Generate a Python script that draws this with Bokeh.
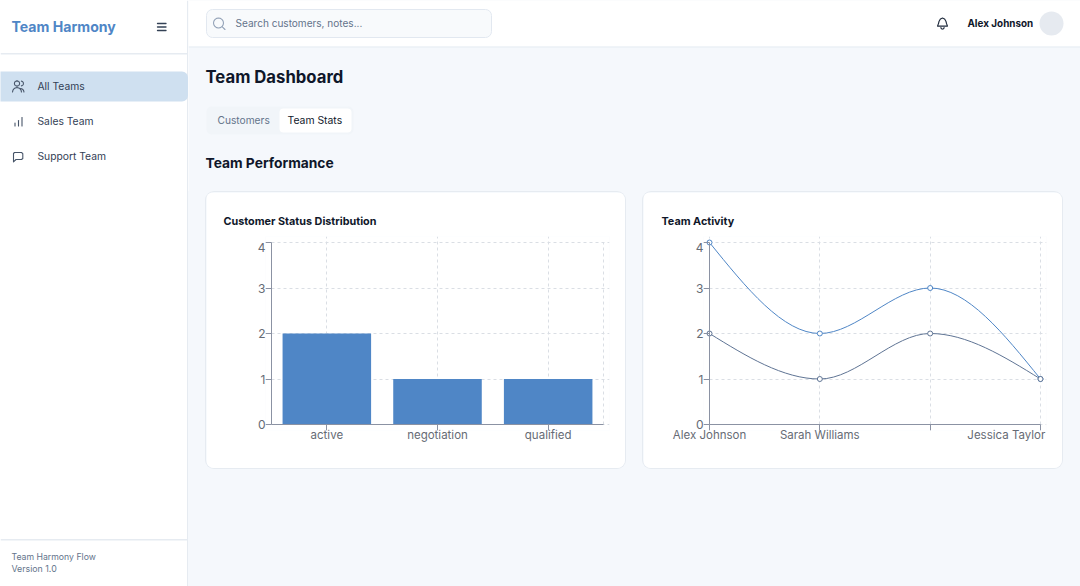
import math
from bokeh.embed import file_html
from bokeh.resources import INLINE
from bokeh.layouts import row, column
from bokeh.models import ColumnDataSource, BoxAnnotation, FixedTicker, Label, LinearAxis, Range1d
from bokeh.plotting import figure

# ---- data ----
statuses = ["active", "negotiation", "qualified"]
status_counts = [2, 1, 1]
member_labels = ["Alex Johnson", "Sarah Williams", "", "Jessica Taylor"]
activity_a = [4, 2, 3, 1]
activity_b = [2, 1, 2, 1]
y_ticks = [0, 1, 2, 3, 4]
nav_items = ["All Teams", "Sales Team", "Support Team"]

# ---- style ----
FONT = "Inter"
BG = "#f5f8fc"
LINE = "#e6ebf1"
BLUE = "#4f86c6"
SLATE = "#5f7494"
GRID = "#dadee4"
AXIS = "#8b92a3"
TICKTXT = "#666b75"
TICK_SIZE = "11.5px"
W, H = 1080, 586
PAD = 6
PLOT_TOP, PLOT_BOTTOM = 242, 424
CARD_TOP, CARD_BOTTOM = 192, 468
CARD_STYLE = {"border-radius": "8px", "overflow": "hidden", "box-shadow": f"0 0 0 1px {LINE}"}


def chrome(x0, x1, y0, y1, bg):
    p = figure(width=x1 - x0, height=y1 - y0, x_range=Range1d(x0, x1), y_range=Range1d(y1, y0),
               x_axis_type=None, y_axis_type=None, toolbar_location=None, output_backend="svg",
               min_border=0, outline_line_color=None, background_fill_color=bg, border_fill_color=bg)
    return p


def box(p, l, r, t, b, fill, line=None, radius=0):
    p.add_layout(BoxAnnotation(left=l, right=r, top=t, bottom=b, fill_color=fill, fill_alpha=1,
                               line_color=line, line_alpha=1 if line else 0, line_width=1,
                               border_radius=radius, level="underlay"))


def text(p, x, y, s, size, color, bold=False, align="left"):
    p.add_layout(Label(x=x - 1, y=y - 1, text=s, text_font=FONT, text_font_size=f"{size}px", text_color=color,
                       text_font_style="bold" if bold else "normal", text_baseline="middle", text_align=align))


def poly(p, xs, ys, color, w=1.1):
    p.line(xs, ys, line_color=color, line_width=w, line_cap="round", line_join="round")


def arc_pts(cx, cy, r, a0, a1, n=16):
    a = [a0 + (a1 - a0) * i / n for i in range(n + 1)]
    return [cx + r * math.cos(math.radians(t)) for t in a], [cy + r * math.sin(math.radians(t)) for t in a]


# ---- sidebar ----
side = chrome(0, 188, 0, H, "#ffffff")
box(side, 186.5, 188, 0, H, LINE)
box(side, 0, 186.5, 52.5, 54, LINE)
box(side, 0, 186.5, 538.5, 540, LINE)
box(side, -8, 187.5, 71, 101, "#cfe0f0", None, 6)
text(side, 12, 27, "Team Harmony", 14.1, BLUE, True)
for yy in (23, 26.5, 30):
    poly(side, [157, 165.5], [yy, yy], "#334155", 1.3)
ICON = "#475569"
for label, yy in zip(nav_items, (86, 121, 156.5)):
    text(side, 38, yy, label, 10.3, "#334155")
# people icon
poly(side, *arc_pts(16.5, 83, 2.6, 0, 360), ICON)
poly(side, *arc_pts(16.5, 91.5, 4.4, 180, 360), ICON)
poly(side, *arc_pts(20.5, 83, 2.4, -80, 80), ICON)
poly(side, *arc_pts(20, 91.5, 3.4, 270, 360), ICON)
# bars icon
for xx, tt in ((14.5, 122.5), (18, 120), (21.5, 117)):
    poly(side, [xx, xx], [125.5, tt], ICON)
# chat icon
poly(side, [14, 21, 22.3, 22.3, 21, 15.5, 13, 13, 14], [152, 152, 153.2, 158, 159, 159, 161.3, 153, 152], ICON)
text(side, 12, 557, "Team Harmony Flow", 8.7, "#64748b")
text(side, 12, 569, "Version 1.0", 8.8, "#64748b")

# ---- header + section headings ----
top = chrome(188, W, 0, 191, BG)
box(top, 188, W, 0, 46, "#ffffff")
box(top, 188, W, 46, 47, LINE)
box(top, 206, 491, 9, 37, "#f8fafc", "#e2e8f0", 6)
poly(top, *arc_pts(218, 22.5, 5, 0, 360), "#94a3b8")
poly(top, [221.8, 224.5], [26.3, 29], "#94a3b8")
text(top, 236, 23, "Search customers, notes...", 10.05, "#64748b")
bx = [938, 938.5, 939, 940, 942, 944, 945, 945.5, 946, 947, 937, 938]
by = [23, 21, 20, 18.4, 17.6, 18.4, 20, 21, 23, 25.6, 25.6, 23]
poly(top, bx, by, "#1e293b")
poly(top, *arc_pts(942, 27, 1.6, 0, 180), "#1e293b")
text(top, 968, 23, "Alex Johnson", 9.9, "#0f172a", True)
top.scatter([1051], [23], size=24, fill_color="#e6eaf0", line_color=None)
text(top, 206, 77, "Team Dashboard", 16.7, "#0f172a", True)
box(top, 206, 353, 106, 134, "#f1f5f9", None, 5)
box(top, 279, 351, 108, 132, "#ffffff", None, 4)
text(top, 218, 120.5, "Customers", 10.2, "#64748b")
text(top, 288, 120.5, "Team Stats", 10.4, "#0f172a")
text(top, 206, 163.5, "Team Performance", 13.8, "#0f172a", True)


# ---- charts ----
def style_axis(ax):
    ax.axis_line_color = AXIS
    ax.axis_line_width = 1
    ax.major_tick_line_color = AXIS
    ax.major_tick_out = 6
    ax.major_tick_in = 0
    ax.minor_tick_line_color = None
    ax.major_label_text_color = None


def label_only(ax, size):
    ax.axis_line_color = None
    ax.major_tick_line_color = None
    ax.minor_tick_line_color = None
    ax.major_tick_out = 0
    ax.major_tick_in = 0
    ax.major_label_text_font = FONT
    ax.major_label_text_font_size = size
    ax.major_label_text_color = TICKTXT


def make_card(x_range, left_b, right_b, title, title_offset, margin):
    p = figure(width=419, height=CARD_BOTTOM - CARD_TOP, x_range=x_range, y_range=Range1d(*y_range_args),
               toolbar_location=None, output_backend="svg", min_border_left=left_b, min_border_right=right_b,
               min_border_top=PLOT_TOP - PAD - CARD_TOP, min_border_bottom=CARD_BOTTOM - PLOT_BOTTOM - PAD,
               background_fill_color="#ffffff", border_fill_color="#ffffff", outline_line_color=None,
               title=title, margin=margin, styles=CARD_STYLE)
    p.title.align = "left"
    p.title.offset = title_offset
    p.title.standoff = 17
    p.title.text_font = FONT
    p.title.text_font_size = "10.8px"
    p.title.text_font_style = "bold"
    p.title.text_color = "#0f172a"
    p.xgrid.grid_line_color = GRID
    p.ygrid.grid_line_color = GRID
    p.xgrid.grid_line_dash = [3, 3]
    p.ygrid.grid_line_dash = [3, 3]
    p.ygrid.ticker = FixedTicker(ticks=y_ticks)
    p.xgrid.bounds = (y_ticks[0], y_ticks[-1])
    label_only(p.xaxis[0], TICK_SIZE)
    label_only(p.yaxis[0], "12px")
    p.xaxis.major_label_standoff = -3
    p.yaxis.major_label_standoff = 0
    # the top value's label sits a little under its tick in the reference
    top_label_at = y_ticks[-1] - 0.1
    p.yaxis.ticker = FixedTicker(ticks=y_ticks[:-1] + [top_label_at])
    p.yaxis.major_label_overrides = {**{v: str(v) for v in y_ticks[:-1]}, top_label_at: str(y_ticks[-1])}
    return p


y_pad = PAD * (y_ticks[-1] - y_ticks[0]) / (PLOT_BOTTOM - PLOT_TOP)
y_range_args = (y_ticks[0] - y_pad, y_ticks[-1] + y_pad)

# bar chart: plot area 271..603; one unit per category
pos = list(range(len(statuses)))
x_left, x_right = pos[0] - 0.5, pos[-1] + 0.5
x_pad1 = PAD * (x_right - x_left) / 332
c1 = make_card(Range1d(x_left - x_pad1, x_right + x_pad1), 271 - PAD - 206, 625 - 603 - PAD,
               "Customer Status Distribution", -42, (1, 9, 118, 18))
c1.xaxis.ticker = FixedTicker(ticks=pos)
c1.xaxis.major_label_overrides = dict(zip(pos, statuses))
c1.xgrid.ticker = FixedTicker(ticks=pos)
c1.ygrid.bounds = (x_left, x_right)
bx1 = LinearAxis(fixed_location=y_ticks[0], ticker=FixedTicker(ticks=pos), bounds=(x_left, x_right))
style_axis(bx1)
c1.add_layout(bx1, "below")
ly1 = LinearAxis(fixed_location=x_left, ticker=FixedTicker(ticks=y_ticks), bounds=(y_ticks[0], y_ticks[-1]))
style_axis(ly1)
c1.add_layout(ly1, "left")
c1.vbar(x=pos, top=status_counts, width=0.8, fill_color=BLUE, line_color=None)
c1.segment(x0=[x_right], y0=[y_ticks[0]], x1=[x_right], y1=[y_ticks[-1]], line_color=GRID, line_dash="3 3",
           line_width=1)


# line chart
def monotone(xs, ys):
    n = len(xs)
    t = [0.0] * n
    sgn = lambda v: (v > 0) - (v < 0)
    for i in range(1, n - 1):
        h0, h1 = xs[i] - xs[i - 1], xs[i + 1] - xs[i]
        s0, s1 = (ys[i] - ys[i - 1]) / h0, (ys[i + 1] - ys[i]) / h1
        q = (s0 * h1 + s1 * h0) / (h0 + h1)
        t[i] = (sgn(s0) + sgn(s1)) * min(abs(s0), abs(s1), 0.5 * abs(q))
    t[0] = (3 * (ys[1] - ys[0]) / (xs[1] - xs[0]) - t[1]) / 2
    t[-1] = (3 * (ys[-1] - ys[-2]) / (xs[-1] - xs[-2]) - t[-2]) / 2
    out = dict(x0=[], y0=[], x1=[], y1=[], cx0=[], cy0=[], cx1=[], cy1=[])
    for i in range(n - 1):
        d = (xs[i + 1] - xs[i]) / 3
        out["x0"].append(xs[i]); out["y0"].append(ys[i])
        out["x1"].append(xs[i + 1]); out["y1"].append(ys[i + 1])
        out["cx0"].append(xs[i] + d); out["cy0"].append(ys[i] + d * t[i])
        out["cx1"].append(xs[i + 1] - d); out["cy1"].append(ys[i + 1] - d * t[i + 1])
    return out


idx = list(range(len(member_labels)))
x_pad2 = PAD * (idx[-1] - idx[0]) / 331
c2 = make_card(Range1d(idx[0] - x_pad2, idx[-1] + x_pad2), 709 - PAD - 643, 1062 - 1040 - PAD,
               "Team Activity", -42, (1, 18, 118, 9))
# last name is pulled back from the edge so that it ends near the plot's right side, as in the reference
last_label_at = 2.69
c2.xaxis.ticker = FixedTicker(ticks=idx[:2] + [last_label_at])
c2.xaxis.major_label_overrides = {idx[0]: member_labels[0], idx[1]: member_labels[1], last_label_at: member_labels[3]}
bx2 = LinearAxis(fixed_location=y_ticks[0], ticker=FixedTicker(ticks=idx), bounds=(idx[0], idx[-1]))
style_axis(bx2)
c2.add_layout(bx2, "below")
ly2 = LinearAxis(fixed_location=idx[0], ticker=FixedTicker(ticks=y_ticks), bounds=(y_ticks[0], y_ticks[-1]))
style_axis(ly2)
c2.add_layout(ly2, "left")
c2.ygrid.bounds = (idx[0], idx[-1])
c2.xgrid.ticker = FixedTicker(ticks=idx)
for vals, col in ((activity_a, BLUE), (activity_b, SLATE)):
    c2.bezier(x0="x0", y0="y0", x1="x1", y1="y1", cx0="cx0", cy0="cy0", cx1="cx1", cy1="cy1",
              source=ColumnDataSource(monotone(idx, vals)), line_color=col, line_width=1)
for vals, col in ((activity_a, BLUE), (activity_b, SLATE)):
    c2.scatter(idx, vals, size=5, fill_color="#ffffff", line_color=col, line_width=1)

charts = row(c1, c2, spacing=0, width=W - 188, height=H - 191, styles={"background-color": BG})
page = row(side, column(top, charts, spacing=0), spacing=0)
open("out.html", "w").write(file_html(page, INLINE))
